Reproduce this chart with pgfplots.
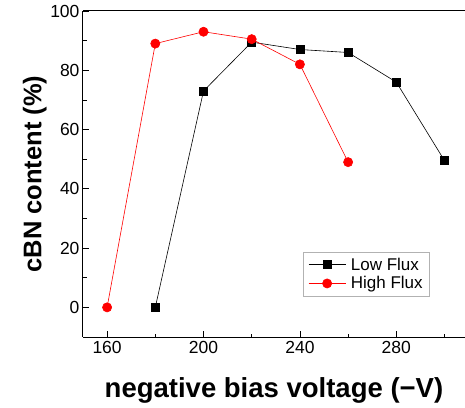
\documentclass[border=0pt]{standalone}
\usepackage{pgfplots}
\pgfplotsset{compat=1.18}
\usepackage{fontspec}
\setmainfont{Liberation Sans}
\begin{document}
\begin{tikzpicture}[x=1pt,y=1pt]
\begin{axis}[
  at={(0,0)}, anchor=south west,
  scale only axis, width=382pt, height=326pt,
  xmin=150, xmax=308.5, ymin=-10, ymax=100,
  axis x line*=box, axis y line*=left,
  axis line style={-, line width=1pt},
  xtick={160,200,240,280}, minor xtick={180,220,260,300},
  ytick={0,20,40,60,80,100}, minor ytick={10,30,50,70,90},
  xtick pos=bottom, ytick pos=left,
  tick align=inside,
  major tick length=6pt, minor tick length=3.5pt,
  tick style={black, line width=0.8pt},
  /pgf/number format/assume math mode=true,
  ticklabel style={font=\fontsize{17.5}{20}\selectfont},
  xticklabel style={yshift=-1pt},
  xlabel={\textbf{negative bias voltage (\textminus V)}},
  ylabel={\textbf{cBN content (\%)}},
  xlabel style={font=\fontsize{27.5}{30}\selectfont, at={(axis description cs:0.5,-0.187)}, anchor=base},
  ylabel style={font=\fontsize{25.5}{30}\selectfont, at={(axis description cs:-0.109,0.5)}, anchor=base, rotate=0},
  legend style={at={(axis description cs:0.576,0.261)}, anchor=north west,
    draw=gray!60, line width=0.6pt, inner xsep=5pt, inner ysep=3.5pt,
    font=\fontsize{17}{20}\selectfont, row sep=1pt,
    cells={anchor=west}},
  legend image code/.code={\draw[mark repeat=2, mark phase=2] plot coordinates {(0cm,0cm) (0.65cm,0cm) (1.3cm,0cm)};},
]
\addplot[black, line width=0.6pt, mark=square*, mark size=4pt, mark options={solid}]
  coordinates {(180,0) (200,73) (220,89.5) (240,87) (260,86) (280,76) (300,49.5)};
\addlegendentry{\hspace{3pt}Low Flux}
\addplot[red, line width=0.6pt, mark=*, mark size=4.6pt, mark options={solid, fill=red}]
  coordinates {(160,0) (180,89) (200,93) (220,90.5) (240,82) (260,49)};
\addlegendentry{\hspace{3pt}High Flux}
\end{axis}
\pgfresetboundingbox
\path[use as bounding box] (-83pt,-70pt) rectangle (382pt,337pt);
\end{tikzpicture}
\end{document}
